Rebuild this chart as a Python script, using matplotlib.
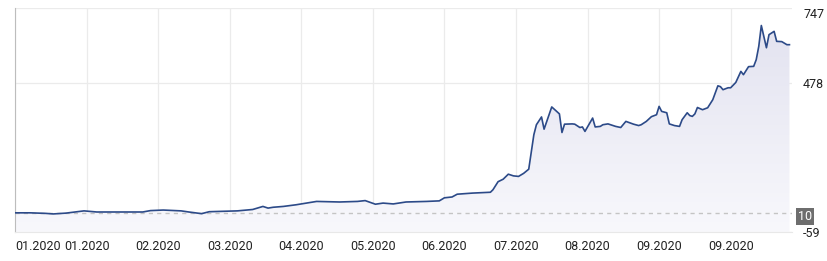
import numpy as np
import matplotlib
matplotlib.use("Agg")
import matplotlib.pyplot as plt
from matplotlib.colors import LinearSegmentedColormap

plt.rcParams["font.family"] = ["Roboto", "DejaVu Sans"]

# day offsets and values
days = [0, 6, 12, 15, 20, 27, 32, 41, 50, 53, 58, 65, 68, 73, 76, 87, 93, 97, 99,
        101, 105, 110, 114, 118, 127, 134, 137, 141, 144, 148, 153, 161, 166, 168,
        171, 173, 179, 186, 187, 189, 191, 193, 195, 197, 199, 201, 203, 204, 206,
        207, 210, 213, 214, 215, 218, 219, 221, 222, 223, 226, 227, 229, 230, 232,
        235, 237, 239, 242, 244, 245, 247, 249, 251, 252, 253, 255, 256, 257, 258,
        260, 261, 263, 264, 265, 266, 267, 269, 271, 273, 275, 276, 277, 279, 280,
        282, 284, 285, 287, 289, 290, 291, 292, 294, 295, 297, 298, 300, 302, 303]
values = [10, 10, 8, 6, 9, 17, 13, 13, 13, 18, 20, 17, 13, 7, 14, 17, 22, 33, 27,
          30, 33, 39, 45, 51, 49, 51, 54, 41, 45, 42, 49, 51, 53, 64,
          67, 77, 81, 84, 93, 122, 131, 149, 143, 141, 152, 167, 291, 327, 355,
          311, 391, 366, 299, 329, 330, 329, 317, 319, 303, 351, 319, 321, 327, 330,
          321, 317, 339, 329, 324, 327, 339, 356, 363, 393, 375, 370, 330, 327, 324,
          321, 345, 370, 360, 357, 366, 389, 381, 388, 417, 467, 464, 453, 460, 460,
          479, 519, 507, 536, 537, 561, 609, 684, 604, 651, 663, 627, 626, 615, 615]

tick_days = [0, 28, 56, 84, 112, 140, 168, 196, 224, 252, 280]
tick_labels = ["01.2020", "01.2020", "02.2020", "03.2020", "04.2020", "05.2020",
               "06.2020", "07.2020", "08.2020", "09.2020", "09.2020"]
y_ticks = [747, 478, -59]
start_value = 10

fig = plt.figure(figsize=(8.28, 2.61), dpi=100)
ax = fig.add_axes([15 / 828, 29 / 261, 777 / 828, 224 / 261])
ymin, ymax = -59, 747
xmax = 304
ax.set_xlim(0, xmax)
ax.set_ylim(ymin, ymax)

# gradient fill under the line
cmap = LinearSegmentedColormap.from_list("fill", ["#f8f8fc", "#e1e1ef"])
grad = np.linspace(0, 1, 256).reshape(-1, 1)
poly = ax.fill_between(days, values, ymin, color="none", lw=0)
img = ax.imshow(grad, cmap=cmap, aspect="auto", origin="lower",
                extent=[0, xmax, ymin, ymax], zorder=1)
img.set_clip_path(poly.get_paths()[0], transform=ax.transData)

ax.axhline(start_value, color="#c4c4c4", lw=1, ls=(0, (3, 3)), zorder=2)
ax.plot(days, values, color="#2c4a88", lw=1.2, zorder=3)

ax.set_xticks(tick_days)
ax.set_xticklabels(tick_labels)
ax.set_yticks(y_ticks)
ax.set_yticklabels([str(v) for v in y_ticks])
ax.yaxis.tick_right()
ax.tick_params(axis="both", length=0, labelsize=9, colors="#222222")
ax.tick_params(axis="x", pad=6)
ax.tick_params(axis="y", pad=8)
xl = ax.get_xticklabels()
xl[0].set_ha("left")
yl = ax.get_yticklabels()
yl[0].set_va("top")

ax.grid(True, color="#ebebeb", lw=0.9, zorder=0)
ax.set_axisbelow(True)
for s in ["top", "right"]:
    ax.spines[s].set_visible(False)
ax.spines["left"].set_color("#bdbdbd")
ax.spines["bottom"].set_color("#e8e8e8")

lbl = ax.text(1.0075, start_value - 12, "10", transform=ax.get_yaxis_transform(),
              color="white", fontsize=9, ha="left", va="center", zorder=5,
              bbox=dict(boxstyle="square,pad=0.15", fc="#6e6e6e", ec="none"))
lbl.set_clip_on(False)

fig.savefig("out.png", dpi=100)
